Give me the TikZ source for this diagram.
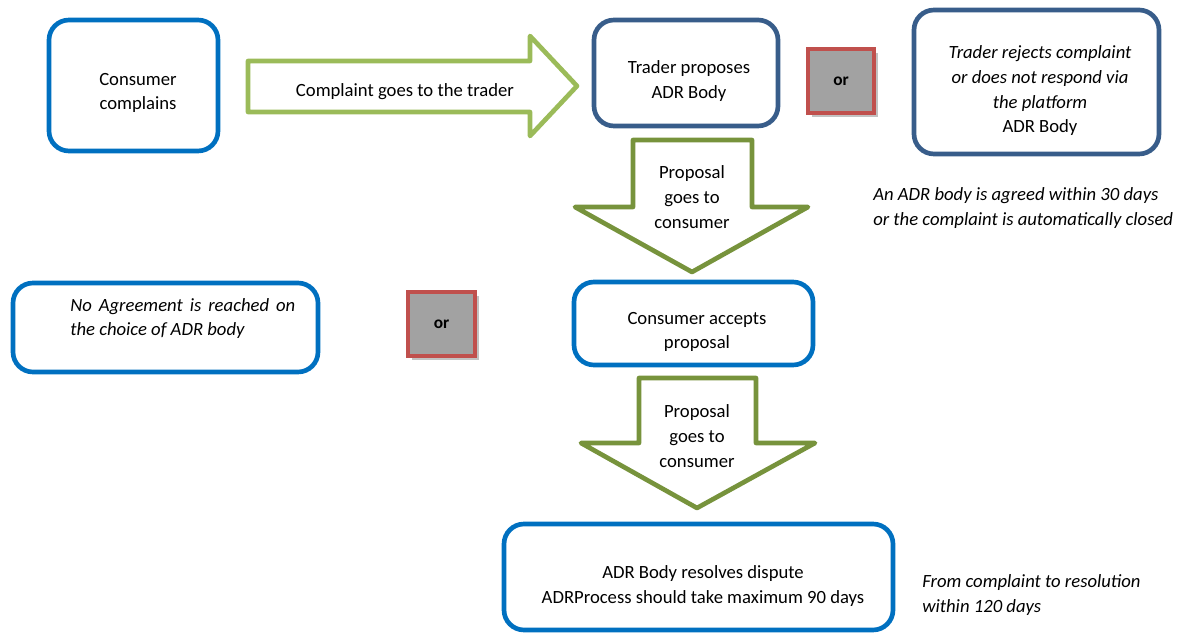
\documentclass[tikz,border=0pt]{standalone}
\usepackage{fontspec}
\setmainfont{Carlito}
\usetikzlibrary{shadows}

\definecolor{boxblue}{RGB}{0,112,192}
\definecolor{navyblue}{RGB}{56,93,138}
\definecolor{lightgreen}{RGB}{155,187,89}
\definecolor{olivegreen}{RGB}{119,147,60}
\definecolor{orred}{RGB}{192,80,77}
\definecolor{orgray}{RGB}{162,162,162}

\begin{document}
\begin{tikzpicture}[x=0.75pt,y=-0.75pt,
  font=\fontsize{14}{18.5}\selectfont,
  bluebox/.style={draw=boxblue,line width=3.5pt,rounded corners=15pt,fill=white,inner sep=0pt},
  navybox/.style={bluebox,draw=navyblue},
  orbox/.style={draw=orred,line width=2.5pt,fill=orgray,inner sep=0pt,
    font=\bfseries\fontsize{13}{15}\selectfont,
    drop shadow={shadow xshift=3pt,shadow yshift=-3pt,opacity=0.4,fill=black!60}},
  lightarrow/.style={draw=lightgreen,line width=3.5pt,fill=white,line join=round},
  darkarrow/.style={draw=olivegreen,line width=3.5pt,fill=white,line join=round},
  note/.style={font=\itshape\fontsize{14}{18.5}\selectfont,align=left,inner sep=0pt}
]
  % Constants
  \pgfmathsetmacro\u{0.75}
  % Boundary
  \useasboundingbox (0,0) rectangle (1186,634);
  % Block arrows
  \draw[lightarrow] (248,61) -- (530,61) -- (530,36) -- (577,86) -- (530,136) -- (530,112) -- (248,112) -- cycle;
  \node (sendtext) at (405,92) {Complaint goes to the trader};
  \draw[darkarrow] (633,140) -- (752,140) -- (752,207) -- (808,207) -- (692,272) -- (575,207) -- (633,207) -- cycle;
  \node[align=center] (propAtext) at (692,197) {Proposal\\goes to\\consumer};
  \draw[darkarrow] (639,378) -- (756,378) -- (756,443) -- (815,443) -- (697,508) -- (581,443) -- (639,443) -- cycle;
  \node[align=center] (propBtext) at (697,436) {Proposal\\goes to\\consumer};
  % Boxes of the first row
  \node[bluebox,minimum width=\u*169pt,minimum height=\u*131pt] (consumer) at (133.5,85.5) {};
  \node[align=center] (consumertext) at (138,93) {Consumer\\complains};
  \node[navybox,minimum width=\u*184pt,minimum height=\u*106pt] (trader) at (686,73) {};
  \node[align=center] (tradertext) at (689,81) {Trader proposes\\ADR Body};
  \node[orbox,minimum width=\u*66pt,minimum height=\u*64pt] (orA) at (841,81) {or};
  \node[navybox,minimum width=\u*245pt,minimum height=\u*144pt] (reject) at (1036.5,82) {};
  \node[align=center] (rejecttext) at (1040,91) {\textit{Trader rejects complaint}\\\textit{or does not respond via}\\\textit{the platform}\\ADR Body};
  \node[note,anchor=west] (agreenote) at (873,208) {An ADR body is agreed within 30 days\\or the complaint is automatically closed};
  % Boxes of the second row
  \node[bluebox,minimum width=\u*305pt,minimum height=\u*89pt] (noagree) at (165.5,327.5) {};
  \node[note,anchor=west,text width=\u*225pt,align=justify] (noagreetext) at (70,318.5) {No Agreement is reached on the choice of ADR body};
  \node[orbox,minimum width=\u*67pt,minimum height=\u*64pt] (orB) at (441.5,324) {or};
  \node[bluebox,minimum width=\u*239pt,minimum height=\u*83pt] (accept) at (693.5,323.5) {};
  \node[align=center] (accepttext) at (697,332) {Consumer accepts\\proposal};
  % Last box
  \node[bluebox,minimum width=\u*389pt,minimum height=\u*106pt] (resolve) at (698.5,577) {};
  \node[align=center] (resolvetext) at (703,586) {ADR Body resolves dispute\\ADRProcess should take maximum 90 days};
  \node[note,anchor=west] (timenote) at (922,595) {From complaint to resolution\\within 120 days};
\end{tikzpicture}
\end{document}
